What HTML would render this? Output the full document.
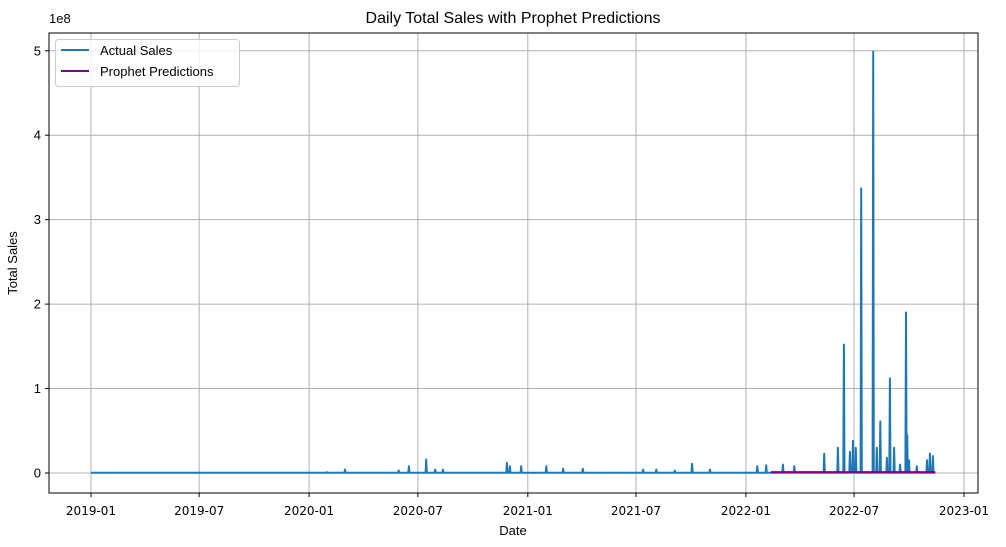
<!DOCTYPE html>
<html><head><meta charset="utf-8"><style>
body{margin:0;background:#fff;}
svg{display:block;font-family:"Liberation Sans","DejaVu Sans",sans-serif;}
</style></head><body>
<svg id="chart" width="1006" height="547" viewBox="0 0 1006 547">
<text x="513" y="23" text-anchor="middle" font-size="16" fill="#000">Daily Total Sales with Prophet Predictions</text>
<text x="49" y="28" font-size="13" fill="#000" transform="translate(0,-5)">1e8</text>
<text x="513" y="535" text-anchor="middle" font-size="13" fill="#000">Date</text>
<text x="17" y="263" text-anchor="middle" font-size="13" fill="#000" transform="rotate(-90 17 263)">Total Sales</text>
<g id="grid"></g>
<g id="ticks"></g>
<g id="series"></g>
<rect x="49" y="33" width="929" height="460" fill="none" stroke="#000" stroke-width="1"/>
<g>
<rect x="55.5" y="39.5" width="184" height="47" rx="3" fill="#fff" fill-opacity="0.8" stroke="#ccc"/>
<line x1="61" y1="50" x2="89" y2="50" stroke="#1f77b4" stroke-width="2"/>
<text x="100" y="55" font-size="13">Actual Sales</text>
<line x1="61" y1="71" x2="89" y2="71" stroke="#800080" stroke-width="2"/>
<text x="100" y="76" font-size="13">Prophet Predictions</text>
</g>
</svg>
<script>
const xTickLabels = ["2019-01","2019-07","2020-01","2020-07","2021-01","2021-07","2022-01","2022-07","2023-01"];
const yTickValues = [0,1,2,3,4,5];
const seriesStart = "2019-01-01";
const seriesEnd = "2022-11-14";
const baselineValue = 0.003;
const spikeDates = ["2020-01-31","2020-03-01","2020-05-30","2020-06-16","2020-07-15","2020-07-30","2020-08-12","2020-11-27","2020-12-02","2020-12-21","2021-02-01","2021-03-01","2021-04-03","2021-07-13","2021-08-04","2021-09-04","2021-10-03","2021-11-02","2022-01-20","2022-02-04","2022-03-04","2022-03-23","2022-05-12","2022-06-04","2022-06-14","2022-06-24","2022-06-29","2022-07-04","2022-07-13","2022-08-02","2022-08-08","2022-08-14","2022-08-25","2022-08-30","2022-09-06","2022-09-16","2022-09-26","2022-09-28","2022-10-01","2022-10-14","2022-10-31","2022-11-05","2022-11-10"];
const spikeValues = [0.01,0.04,0.03,0.08,0.16,0.04,0.04,0.12,0.08,0.08,0.08,0.05,0.05,0.04,0.04,0.03,0.11,0.04,0.08,0.09,0.1,0.08,0.23,0.3,1.52,0.25,0.38,0.3,3.37,4.99,0.3,0.61,0.18,1.12,0.3,0.1,1.9,0.45,0.15,0.08,0.15,0.23,0.2];
const predStart = "2022-02-12";
const predEnd = "2022-11-14";
const predValue = 0.01;

const L=49,R=978,T=33,B=493;
const d0=Date.parse("2019-01-01"), d1=Date.parse("2023-01-01");
const X0=91, X1=964;
function xs(date){const t=typeof date==="string"?Date.parse(date):date;return X0+(t-d0)/(d1-d0)*(X1-X0);}
function ys(v){return 473-v*84.45;}
const NS="http://www.w3.org/2000/svg";
const grid=document.getElementById("grid"),ticks=document.getElementById("ticks"),series=document.getElementById("series");
function mk(tag,attrs,parent){const e=document.createElementNS(NS,tag);for(const k in attrs)e.setAttribute(k,attrs[k]);parent.appendChild(e);return e;}
xTickLabels.forEach(lb=>{
  const x=xs(lb+"-01");
  const g=mk("line",{x1:x,x2:x,y1:T,y2:B,stroke:"#b0b0b0","stroke-width":1},grid);
  
  
  mk("line",{x1:x,x2:x,y1:B,y2:B+4,stroke:"#000"},ticks);
  const t=mk("text",{x:x,y:B+22,"text-anchor":"middle","font-size":12,"font-family":"DejaVu Sans, sans-serif"},ticks);
  t.textContent=lb;
  
  
});
yTickValues.forEach(v=>{
  const y=ys(v);
  const g=mk("line",{x1:L,x2:R,y1:y,y2:y,stroke:"#b0b0b0","stroke-width":1},grid);
  
  
  mk("line",{x1:L-4,x2:L,y1:y,y2:y,stroke:"#000"},ticks);
  const t=mk("text",{x:L-8,y:y+4.5,"text-anchor":"end","font-size":13},ticks);
  t.textContent=v;
  
  
});
const day=86400000;
let pts=[[xs(seriesStart),ys(baselineValue)]];
spikeDates.forEach((d,i)=>{
  const t=Date.parse(d);
  pts.push([xs(t-day),ys(baselineValue)]);
  pts.push([xs(t),ys(spikeValues[i])]);
  pts.push([xs(t+day),ys(baselineValue)]);
});
pts.push([xs(seriesEnd),ys(baselineValue)]);
const a=mk("polyline",{points:pts.map(p=>p[0].toFixed(1)+","+p[1].toFixed(1)).join(" "),fill:"none",stroke:"#1f77b4","stroke-width":2,"stroke-linejoin":"round"},series);


const p=mk("line",{x1:xs(predStart),x2:xs(predEnd),y1:ys(predValue),y2:ys(predValue),stroke:"#800080","stroke-width":2},series);


</script>
</body></html>
